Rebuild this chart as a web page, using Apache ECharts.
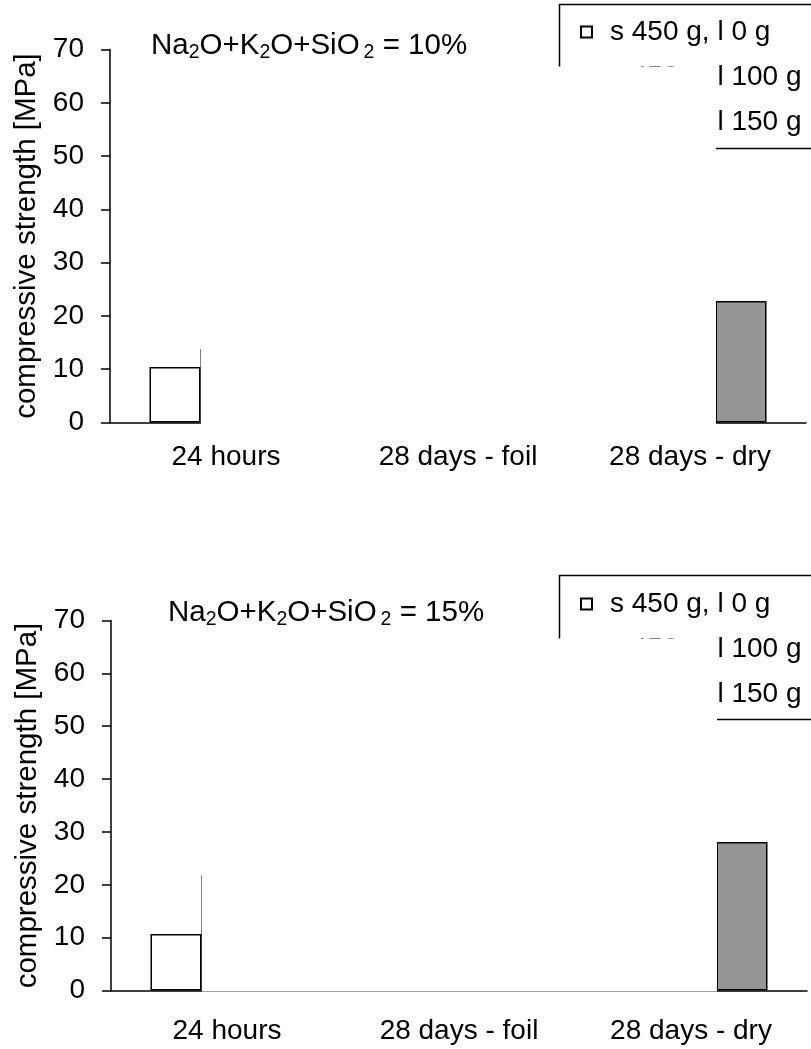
<!DOCTYPE html>
<html><head><meta charset="utf-8">
<script src="https://cdn.jsdelivr.net/npm/echarts@6/dist/echarts.min.js"></script>
<style>html,body{margin:0;padding:0;background:#fff}#c{width:811px;height:1049px}</style>
</head><body><div id="c"></div>
<script>
const categories = ['24 hours', '28 days - foil', '28 days - dry'];
const seriesNames = ['s 450 g, l 0 g', 's 450 g, l 100 g', 's 450 g, l 150 g'];
const yTicks = [0, 10, 20, 30, 40, 50, 60, 70];
// Panel 1: Na2O+K2O+SiO2 = 10%  (null = hidden in the picture)
const p1_l0   = [10.4, null, null];
const p1_l100 = [13.8, null, 29.4];
const p1_l150 = [null, null, 22.8];
// Panel 2: Na2O+K2O+SiO2 = 15%
const p2_l0   = [10.7, null, null];
const p2_l100 = [21.8, null, 36.3];
const p2_l150 = [null, null, 28.1];
const panelTitles = ['10%', '15%'];

const FONT = 'Liberation Sans, Arial, sans-serif';
const FS = 28;
const chart = echarts.init(document.getElementById('c'), null, {renderer: 'canvas'});

const seriesStyles = [
  {color: '#ffffff', borderColor: '#000', borderWidth: 1.5},
  {color: '#000000', borderColor: '#000', borderWidth: 1.5},
  {color: '#969696', borderColor: '#000', borderWidth: 1.5}
];
const panels = [[p1_l0, p1_l100, p1_l150], [p2_l0, p2_l100, p2_l150]];

const grids = [
  {left: 110, width: 696, top: 49.5, height: 373},
  {left: 111, width: 696, top: 620.5, height: 370}
];
const labelMargins = [21, 27];

function xAxis(i) {
  return {
    type: 'category', gridIndex: i, data: categories,
    axisLine: {lineStyle: {color: '#000', width: 1.5}},
    axisTick: {length: 8, lineStyle: {color: '#000', width: 1.5}},
    axisLabel: {color: '#000', fontSize: FS, fontFamily: FONT, margin: labelMargins[i]}
  };
}
function yAxis(i) {
  return {
    type: 'value', gridIndex: i, min: yTicks[0], max: yTicks[yTicks.length - 1], interval: 10,
    name: 'compressive strength [MPa]', nameLocation: 'middle', nameGap: 62,
    nameTextStyle: {color: '#000', fontSize: 29.5, fontFamily: FONT},
    axisLine: {show: true, lineStyle: {color: '#000', width: 1.5}},
    axisTick: {show: true, length: 9, lineStyle: {color: '#000', width: 1.5}},
    axisLabel: {color: '#000', fontSize: FS, fontFamily: FONT, margin: 26},
    splitLine: {show: false}
  };
}

const series = [];
panels.forEach((p, pi) => {
  p.forEach((vals, si) => {
    series.push({
      type: 'bar', name: seriesNames[si], xAxisIndex: pi, yAxisIndex: pi,
      data: vals, barWidth: 51, barGap: '0%',
      itemStyle: seriesStyles[si], emphasis: {disabled: true}, animation: false
    });
  });
});

function titleText(pct) {
  return '{n|Na}{s|2}{n|O+K}{s|2}{n|O+SiO}{t|2}{n| = ' + pct + '}';
}
const rich = {
  n: {fontSize: 29.5, fontFamily: FONT, fontWeight: 'normal', color: '#000', lineHeight: 32},
  s: {fontSize: 19.5, fontFamily: FONT, fontWeight: 'normal', color: '#000', padding: [13, 0, 0, 0], lineHeight: 20},
  t: {fontSize: 19.5, fontFamily: FONT, fontWeight: 'normal', color: '#000', padding: [13, 0, 0, 4], lineHeight: 20}
};

const legendBase = {
  orient: 'vertical', itemWidth: 11, itemHeight: 11,
  selectedMode: false, icon: 'rect',
  data: seriesNames
};
const legendText = {color: '#000', fontSize: FS, fontFamily: FONT, lineHeight: 30, padding: [0, 0, 0, 13]};

chart.setOption({
  animation: false,
  grid: grids,
  xAxis: [xAxis(0), xAxis(1)],
  yAxis: [yAxis(0), yAxis(1)],
  series: series,
  title: [
    {text: titleText(panelTitles[0]), left: 151, top: 30, padding: 0, textStyle: {fontWeight: 'normal', rich: rich}},
    {text: titleText(panelTitles[1]), left: 168, top: 597, padding: 0, textStyle: {fontWeight: 'normal', rich: rich}}
  ],
  legend: [
    Object.assign({}, legendBase, {left: 580, top: 17, padding: 0, itemGap: 15, textStyle: legendText}),
    Object.assign({}, legendBase, {left: 580, top: 589, padding: 0, itemGap: 15, textStyle: legendText})
  ],
  graphic: [
    // legend frames (extend past the right edge)
    {type: 'rect', z: 50, shape: {x: 559.5, y: 4.5, width: 300, height: 144}, style: {fill: null, stroke: '#000', lineWidth: 1.5}},
    {type: 'rect', z: 50, shape: {x: 559.5, y: 575.5, width: 300, height: 144}, style: {fill: null, stroke: '#000', lineWidth: 1.5}},
    // blank (erased) regions of the original figure
    {type: 'rect', z: 100, shape: {x: 201, y: 66.5, width: 515, height: 358}, style: {fill: '#fff'}},
    {type: 'rect', z: 100, shape: {x: 202, y: 638.5, width: 515, height: 353}, style: {fill: '#fff'}}
  ]
});
</script></body></html>
